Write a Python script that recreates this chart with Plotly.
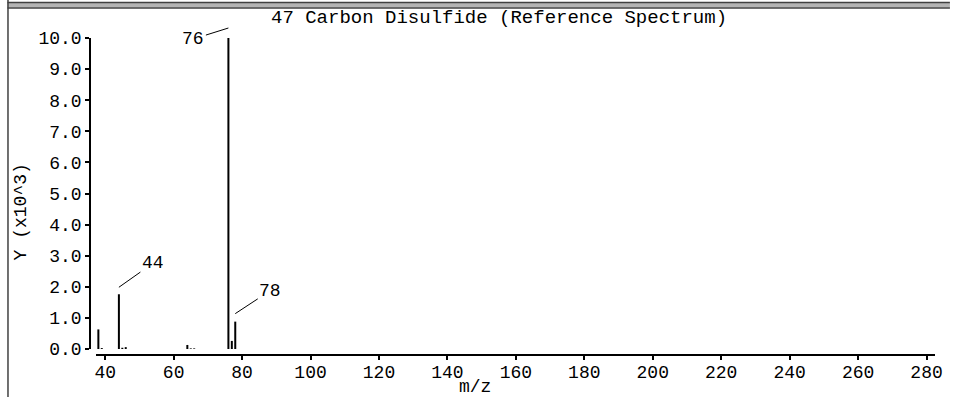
import plotly.graph_objects as go

# Mass spectrum of carbon disulfide: m/z and intensity (x10^3)
mz = [38, 39, 44, 45, 46, 64, 65, 66, 76, 77, 78]
intensity = [0.63, 0.03, 1.76, 0.04, 0.06, 0.13, 0.02, 0.02, 10.0, 0.26, 0.88]

# Labelled peaks
peak_labels = [76, 44, 78]

x_ticks = [40, 60, 80, 100, 120, 140, 160, 180, 200, 220, 240, 260, 280]
y_ticks = [0, 1, 2, 3, 4, 5, 6, 7, 8, 9, 10]

W, H = 955, 397
L, R, T, B = 90, 15, 30, 42
PW, PH = W - L - R, H - T - B

FONT = "Liberation Mono"


def px(xp):
    return (xp - L) / PW


def py(yp):
    return (H - B - yp) / PH


Y_DOM = [py(349), py(38)]
Y_RANGE = [0, 10]


def y_paper(v, lift_px):
    """Paper y of a point lift_px pixels above data value v."""
    frac = (v - Y_RANGE[0]) / (Y_RANGE[1] - Y_RANGE[0])
    return Y_DOM[0] + frac * (Y_DOM[1] - Y_DOM[0]) + lift_px / PH


# stick spectrum as one line trace with gaps
sx, sy = [], []
for m, v in zip(mz, intensity):
    sx += [m, m, None]
    sy += [0, v, None]

fig = go.Figure()
fig.add_trace(go.Scatter(x=sx, y=sy, mode="lines",
                         line=dict(color="black", width=2),
                         hoverinfo="skip", showlegend=False))

annotations = []
# leader lines for the labelled peaks: (text dx, text dy, gap above peak)
leaders = {76: (-35, 11, 10), 44: (34, -24, 7), 78: (35, -23, 8)}
for p in peak_labels:
    ax, ay, lift = leaders[p]
    v = intensity[mz.index(p)]
    annotations.append(dict(x=p, y=y_paper(v, lift), xref="x", yref="paper",
                            text=str(p), showarrow=True, arrowhead=0,
                            arrowwidth=1, arrowcolor="black", ax=ax, ay=ay,
                            standoff=0, xanchor="center", yanchor="middle",
                            font=dict(family=FONT, size=18, color="black")))

text_common = dict(xref="paper", yref="paper", showarrow=False,
                   xanchor="center", yanchor="middle")
annotations += [
    dict(x=px(501), y=py(18), text="47 Carbon Disulfide (Reference Spectrum)",
         font=dict(family=FONT, size=19, color="black"), **text_common),
    dict(x=px(21), y=py(212), text="Y (x10^3)", textangle=-90,
         font=dict(family=FONT, size=18, color="black"), **text_common),
    dict(x=px(477), y=py(387), text="m/z",
         font=dict(family=FONT, size=18, color="black"), **text_common),
    # axis title of the panel above, cut by the frame edge
    dict(x=px(477), y=py(-5), text="m/z",
         font=dict(family=FONT, size=18, color="black"), **text_common),
]

shapes = [
    # frame separator band at the top
    dict(type="rect", xref="paper", yref="paper", x0=px(7), x1=px(W),
         y0=py(7.5), y1=py(3), fillcolor="#b4b4b4", line=dict(width=0),
         layer="above"),
    dict(type="line", xref="paper", yref="paper", x0=px(7), x1=px(W),
         y0=py(2.5), y1=py(2.5), line=dict(color="#404040", width=1.5)),
    dict(type="line", xref="paper", yref="paper", x0=px(7), x1=px(W),
         y0=py(8), y1=py(8), line=dict(color="#404040", width=1.5)),
    # left frame edge
    dict(type="line", xref="paper", yref="paper", x0=px(7.5), x1=px(7.5),
         y0=py(0), y1=py(H), line=dict(color="#404040", width=1.5)),
]

fig.update_layout(
    width=W, height=H,
    margin=dict(l=L, r=R, t=T, b=B, pad=0),
    paper_bgcolor="white", plot_bgcolor="white",
    annotations=annotations, shapes=shapes,
    font=dict(family=FONT, size=18, color="black"),
    xaxis=dict(domain=[6 / PW, 1], range=[37.3, 282.47], anchor="free",
               position=0, showline=True, linecolor="black", linewidth=1.5,
               ticks="outside", ticklen=4, tickwidth=1.5, tickcolor="black",
               tickvals=x_ticks, ticktext=[str(v) for v in x_ticks],
               ticklabelstandoff=-3,
               showgrid=False, zeroline=False,
               tickfont=dict(family=FONT, size=18, color="black")),
    yaxis=dict(domain=Y_DOM, range=Y_RANGE, anchor="free",
               position=0, showline=True, linecolor="black", linewidth=1.5,
               ticks="outside", ticklen=4, tickwidth=1.5, tickcolor="black",
               tickvals=y_ticks, ticktext=[f"{v:.1f}" for v in y_ticks],
               showgrid=False, zeroline=False,
               tickfont=dict(family=FONT, size=18, color="black")),
)

fig.write_html("out.html")
